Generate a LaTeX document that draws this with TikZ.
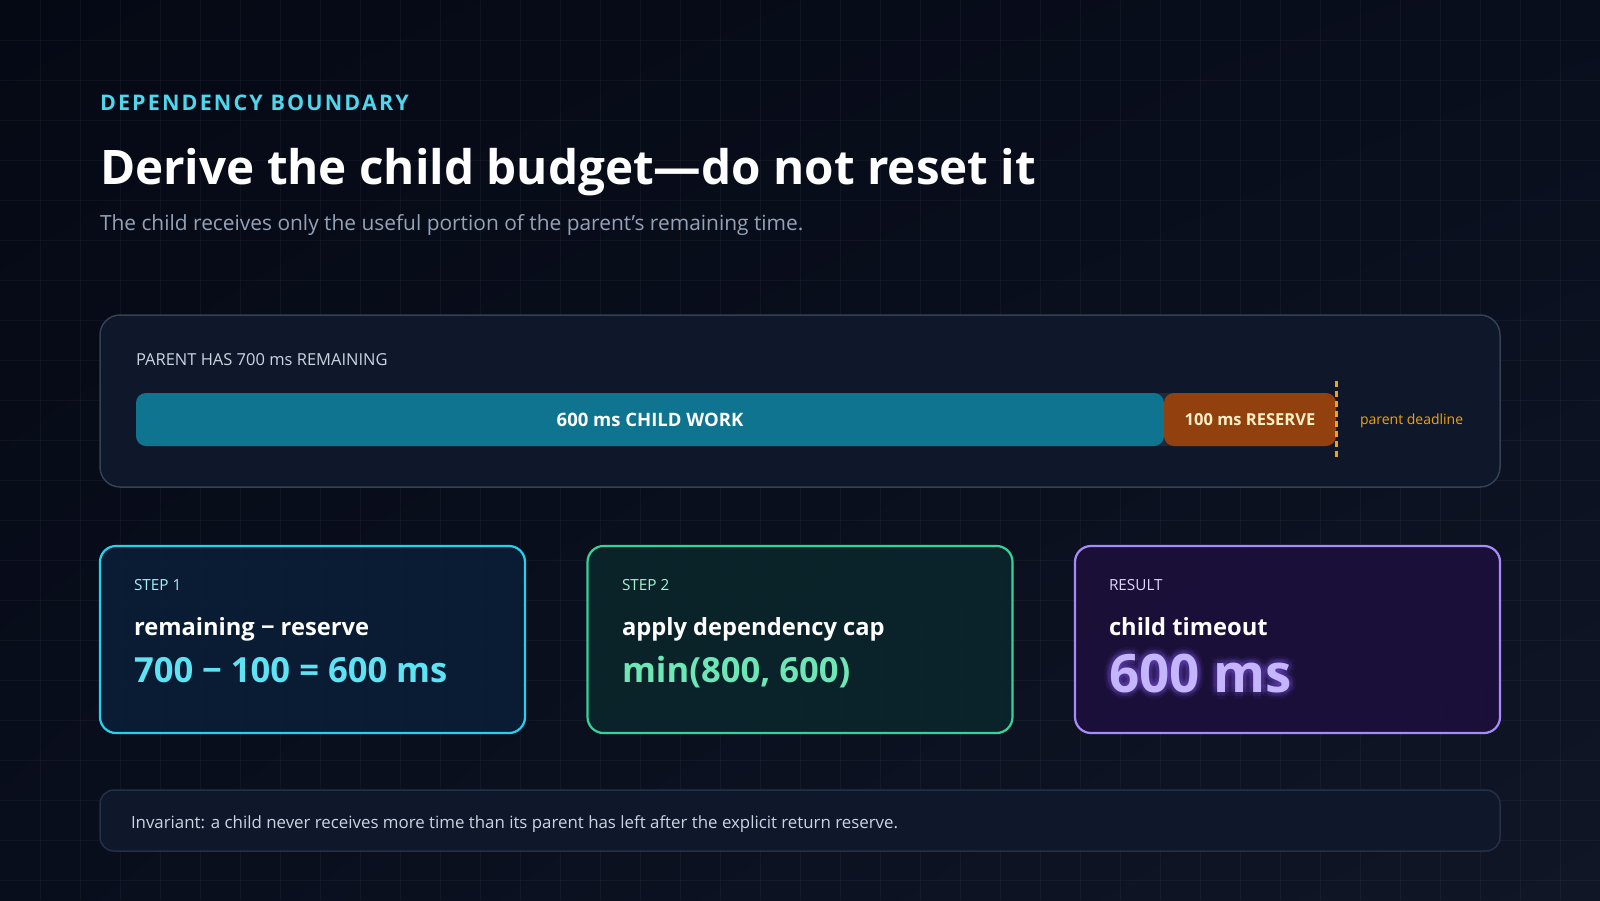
\documentclass[tikz,border=0pt]{standalone}
\usepackage{fontspec}
\setmainfont{Open Sans}
\usetikzlibrary{positioning,shadings}

\definecolor{bgtl}{HTML}{050914}
\definecolor{bgbr}{HTML}{101626}
\definecolor{bgmid}{HTML}{090E1D}
\definecolor{eyebrow}{HTML}{4FD6EC}
\definecolor{subgray}{HTML}{94A3B8}
\definecolor{panelbg}{HTML}{0F172A}
\definecolor{panelline}{HTML}{334155}
\definecolor{softline}{HTML}{243047}
\definecolor{labelgray}{HTML}{CBD5E1}
\definecolor{trackbg}{HTML}{1E293B}
\definecolor{childbar}{HTML}{0E7490}
\definecolor{reservebar}{HTML}{92400E}
\definecolor{cream}{HTML}{FEF0C7}
\definecolor{deadline}{HTML}{F0A30A}
\definecolor{cyanline}{HTML}{22D3EE}
\definecolor{cyanbg}{HTML}{0A1E36}
\definecolor{cyantag}{HTML}{A5F0FA}
\definecolor{cyanval}{HTML}{5EE3F5}
\definecolor{greenline}{HTML}{34D399}
\definecolor{greenbg}{HTML}{0A252B}
\definecolor{greentag}{HTML}{A7F3D0}
\definecolor{greenval}{HTML}{6EE7B7}
\definecolor{violetline}{HTML}{A78BFA}
\definecolor{violetbg}{HTML}{1B0F3A}
\definecolor{violettag}{HTML}{DDD6FE}
\definecolor{violetval}{HTML}{C4B5FD}
\definecolor{glowcol}{HTML}{8B5CF6}

\newcommand{\px}[1]{\fontsize{#1}{#1}\selectfont}

\begin{document}
\begin{tikzpicture}[x=1pt,y=-1pt,
  every node/.style={inner sep=0pt, outer sep=0pt},
  gridline/.style={draw=white, draw opacity=0.035, line width=1pt},
  panel/.style={draw=panelline, fill=panelbg, line width=1.5pt, rounded corners=20pt},
  bar/.style={rectangle, rounded corners=10pt, minimum height=53pt, anchor=north west, text depth=0pt, font=\px{18.5}\bfseries},
  card/.style={rectangle, rounded corners=16pt, line width=2.2pt, fill opacity=0.92,
    minimum width=425pt, minimum height=187pt, anchor=north west},
  tag/.style={anchor=base west, font=\px{15.3}},
  head/.style={anchor=base west, font=\px{23.7}\bfseries, text=white},
  value/.style={anchor=base west, font=\px{34.6}\bfseries}]

  \useasboundingbox (0,0) rectangle (1600,900);
  \shade[upper left=bgtl, lower right=bgbr, upper right=bgmid, lower left=bgmid] (0,0) rectangle (1600,900);
  \foreach \x in {40,80,...,1560}
    \draw[gridline] (\x,0) -- (\x,900);
  \foreach \y in {40,80,...,880}
    \draw[gridline] (0,\y) -- (1600,\y);

  % heading
  \node[anchor=base west, text=eyebrow, font=\px{21.5}\bfseries\addfontfeature{LetterSpace=10}] (eyebrow) at (100,110) {DEPENDENCY BOUNDARY};
  \node[anchor=base west, text=white, font=\px{47.6}\bfseries] (title) at (100,184) {Derive the child budget---do not reset it};
  \node[anchor=base west, text=subgray, font=\px{20.9}] (subtitle) at (100,230) {The child receives only the useful portion of the parent’s remaining time.};

  % parent budget bar
  \draw[panel] (100,315) rectangle (1500,487);
  \node[anchor=base west, text=labelgray, font=\px{16.5}] (parentlbl) at (136,365) {PARENT HAS 700 ms REMAINING};
  \fill[trackbg, rounded corners=10pt] (136,393) rectangle (1336,446);
  \node[bar, fill=childbar, minimum width=1028pt, text=white] (child) at (136,393) {600 ms CHILD WORK};
  \node[bar, fill=reservebar, minimum width=172pt, text=cream, font=\px{16.5}\bfseries] (reserve) at (1164,393) {100 ms RESERVE};
  \coordinate (dltop) at (1336,381);
  \coordinate (dlbot) at (1336,459);
  \draw[deadline, line width=3pt, dash pattern=on 6pt off 4pt] (dltop) -- (dlbot);
  \node[anchor=west, text=deadline, font=\px{14}] (dllbl) at (1360,421) {parent deadline};

  % cards
  \node[card, draw=cyanline, fill=cyanbg] (step1) at (100,546) {};
  \node[card, draw=greenline, fill=greenbg] (step2) at (587.5,546) {};
  \node[card, draw=violetline, fill=violetbg] (result) at (1075,546) {};

  \node[tag, text=cyantag] (tag1) at (134,590) {STEP 1};
  \node[head] (head1) at (134,635) {remaining − reserve};
  \node[value, text=cyanval] (val1) at (134,682) {700 − 100 = 600 ms};

  \node[tag, text=greentag] (tag2) at (622,590) {STEP 2};
  \node[head] (head2) at (622,635) {apply dependency cap};
  \node[value, text=greenval] (val2) at (622,682) {min(800, 600)};

  \node[tag, text=violettag] (tag3) at (1109,590) {RESULT};
  \node[head] (head3) at (1109,635) {child timeout};
  \coordinate (resval) at (1109,692);
  \foreach \r/\o in {7/0.06,4/0.09}
    \foreach \a in {0,45,...,315}
      \node[anchor=base west, text=glowcol, text opacity=\o, font=\px{53}\bfseries] at ([shift={(\a:\r)}]resval) {600 ms};
  \node[anchor=base west, text=violetval, font=\px{53}\bfseries] (val3) at (resval) {600 ms};

  % invariant note
  \draw[panel, draw=softline, rounded corners=14pt] (100,790) rectangle (1500,851);
  \node[anchor=base west, text=labelgray, font=\px{16.85}] (note) at (131,828) {Invariant: a child never receives more time than its parent has left after the explicit return reserve.};
\end{tikzpicture}
\end{document}
